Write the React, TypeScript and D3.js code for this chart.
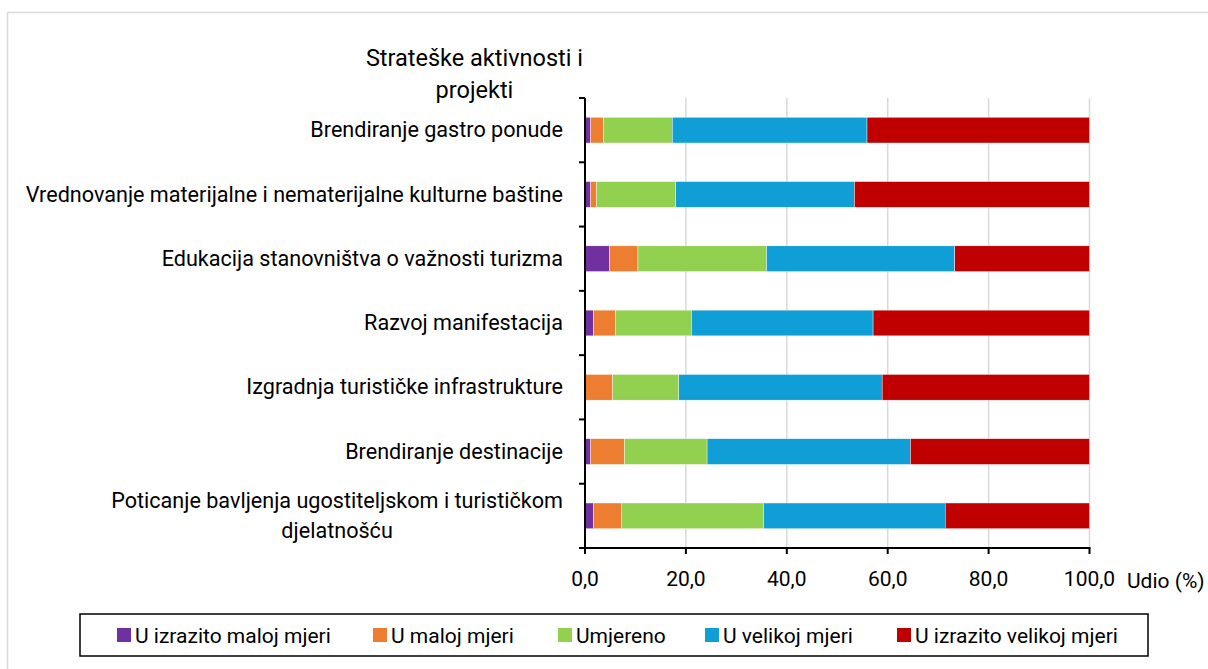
import React, { useEffect, useRef } from 'react';
import * as d3 from 'd3';

const categories = [
  'Brendiranje gastro ponude',
  'Vrednovanje materijalne i nematerijalne kulturne baštine',
  'Edukacija stanovništva o važnosti turizma',
  'Razvoj manifestacija',
  'Izgradnja turističke infrastrukture',
  'Brendiranje destinacije',
  'Poticanje bavljenja ugostiteljskom i turističkom|djelatnošću',
];

const seriesNames = [
  'U izrazito maloj mjeri',
  'U maloj mjeri',
  'Umjereno',
  'U velikoj mjeri',
  'U izrazito velikoj mjeri',
];

const izrazitoMalo = [1.1, 1.1, 4.9, 1.7, 0.0, 1.1, 1.7];
const malo = [2.6, 1.2, 5.6, 4.4, 5.5, 6.7, 5.6];
const umjereno = [13.6, 15.7, 25.5, 15.0, 13.1, 16.4, 28.1];
const veliko = [38.6, 35.4, 37.3, 36.0, 40.3, 40.3, 36.0];
const izrazitoVeliko = [44.1, 46.6, 26.7, 42.9, 41.1, 35.5, 28.6];

const xTicks = [0, 20, 40, 60, 80, 100];

const colors = ['#7030A0', '#ED7D31', '#92D050', '#0F9ED5', '#C00000'];

const FONT = '"Roboto", sans-serif';

export default function App() {
  const ref = useRef<SVGSVGElement>(null);

  useEffect(() => {
    const svg = d3.select(ref.current);
    svg.selectAll('*').remove();

    const W = 1208, H = 669;
    const left = 585, right = 1089.5, top = 98, bottom = 548;

    // chart frame
    svg.append('rect')
      .attr('x', 7.5).attr('y', 12.5)
      .attr('width', W + 10).attr('height', H + 10)
      .attr('fill', '#fff').attr('stroke', '#d9d9d9').attr('stroke-width', 1.5);

    const x = d3.scaleLinear().domain([0, 100]).range([left, right]);
    const y = d3.scaleBand().domain(categories).range([top, bottom])
      .paddingInner(0.6).paddingOuter(0.3);
    const step = y.step();

    // gridlines
    svg.append('g').selectAll('line').data(xTicks.slice(1)).enter().append('line')
      .attr('x1', d => x(d)).attr('x2', d => x(d))
      .attr('y1', top).attr('y2', bottom)
      .attr('stroke', '#d9d9d9').attr('stroke-width', 1.5);

    const rows = categories.map((c, i) => [
      izrazitoMalo[i], malo[i], umjereno[i], veliko[i], izrazitoVeliko[i],
    ]);

    const g = svg.append('g');
    rows.forEach((vals, i) => {
      let acc = 0;
      vals.forEach((v, k) => {
        if (v > 0) {
          g.append('rect')
            .attr('x', x(acc)).attr('width', x(acc + v) - x(acc))
            .attr('y', y(categories[i])!).attr('height', y.bandwidth())
            .attr('fill', colors[k])
            .attr('stroke', '#fff').attr('stroke-width', 0.4);
        }
        acc += v;
      });
    });

    // y axis
    const axis = svg.append('g').attr('stroke', '#000').attr('stroke-width', 2);
    axis.append('line').attr('x1', left).attr('x2', left).attr('y1', top).attr('y2', bottom + 5);
    d3.range(categories.length + 1).forEach(i => {
      axis.append('line').attr('x1', left - 6).attr('x2', left)
        .attr('y1', top + i * step).attr('y2', top + i * step);
    });
    // x axis
    axis.append('line').attr('x1', left - 6).attr('x2', right + 1).attr('y1', bottom).attr('y2', bottom);
    xTicks.forEach(t => {
      axis.append('line').attr('x1', x(t)).attr('x2', x(t)).attr('y1', bottom).attr('y2', bottom + 6);
    });

    svg.append('g').selectAll('text').data(xTicks).enter().append('text')
      .attr('x', d => x(d)).attr('y', bottom + 38)
      .attr('text-anchor', 'middle')
      .attr('font-family', FONT).attr('font-size', 21).attr('fill', '#000')
      .text(d => d3.format('.1f')(d).replace('.', ','));

    svg.append('text').attr('x', 1127).attr('y', bottom + 40)
      .attr('font-family', FONT).attr('font-size', 21).attr('fill', '#000')
      .text('Udio (%)');

    // multi-line centered label whose right edge sits at rx
    const multi = (lines: string[], rx: number, cy: number, lh: number, fs: number) => {
      const t = svg.append('text')
        .attr('font-family', FONT).attr('font-size', fs).attr('fill', '#000')
        .attr('text-anchor', 'middle');
      const spans = lines.map((l, j) => t.append('tspan')
        .attr('y', cy + (j - (lines.length - 1) / 2) * lh + fs / 3).text(l));
      const widths = spans.map(s => (s.node() as SVGTSpanElement).getComputedTextLength());
      const cx = rx - d3.max(widths)! / 2;
      spans.forEach(s => s.attr('x', cx));
    };

    categories.forEach(c => {
      multi(c.split('|'), 563, y(c)! + y.bandwidth() / 2, 30, 21.6);
    });

    multi(['Strateške aktivnosti i', 'projekti'], 583, 74, 32, 23.5);

    // legend
    svg.append('rect').attr('x', 80).attr('y', 614).attr('width', 1068).attr('height', 42)
      .attr('fill', '#fff').attr('stroke', '#000').attr('stroke-width', 1.5);
    const legendX = [117, 373, 558, 705, 897];
    seriesNames.forEach((n, k) => {
      svg.append('rect').attr('x', legendX[k]).attr('y', 628).attr('width', 14).attr('height', 14)
        .attr('fill', colors[k]);
      svg.append('text').attr('x', legendX[k] + 18).attr('y', 643)
        .attr('font-family', FONT).attr('font-size', 21).attr('fill', '#000')
        .text(n);
    });
  }, []);

  return (
    <svg ref={ref} width={1208} height={669}
      style={{ position: 'absolute', left: 0, top: 0, background: '#fff' }} />
  );
}
